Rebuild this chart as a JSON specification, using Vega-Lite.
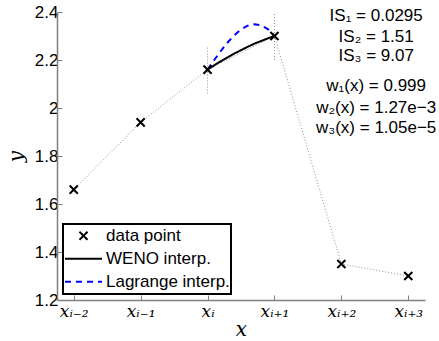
{
  "$schema": "https://vega.github.io/schema/vega-lite/v6.json",
  "width": 368,
  "height": 288,
  "autosize": {"type": "none"},
  "padding": {"left": 57, "top": 12, "right": 14, "bottom": 41},
  "background": "white",
  "datasets": {
    "points": [
      {"x": 0, "y": 1.66, "series": "data point"},
      {"x": 1, "y": 1.94, "series": "data point"},
      {"x": 2, "y": 2.16, "series": "data point"},
      {"x": 3, "y": 2.30, "series": "data point"},
      {"x": 4, "y": 1.35, "series": "data point"},
      {"x": 5, "y": 1.30, "series": "data point"}
    ],
    "curves": [
      {"x": 2.0, "y": 2.160, "series": "WENO interp."},
      {"x": 2.1, "y": 2.178, "series": "WENO interp."},
      {"x": 2.2, "y": 2.195, "series": "WENO interp."},
      {"x": 2.3, "y": 2.211, "series": "WENO interp."},
      {"x": 2.4, "y": 2.227, "series": "WENO interp."},
      {"x": 2.5, "y": 2.241, "series": "WENO interp."},
      {"x": 2.6, "y": 2.255, "series": "WENO interp."},
      {"x": 2.7, "y": 2.268, "series": "WENO interp."},
      {"x": 2.8, "y": 2.279, "series": "WENO interp."},
      {"x": 2.9, "y": 2.290, "series": "WENO interp."},
      {"x": 3.0, "y": 2.300, "series": "WENO interp."},
      {"x": 2.0, "y": 2.160, "series": "Lagrange interp."},
      {"x": 2.1, "y": 2.200, "series": "Lagrange interp."},
      {"x": 2.2, "y": 2.238, "series": "Lagrange interp."},
      {"x": 2.3, "y": 2.273, "series": "Lagrange interp."},
      {"x": 2.4, "y": 2.303, "series": "Lagrange interp."},
      {"x": 2.5, "y": 2.327, "series": "Lagrange interp."},
      {"x": 2.6, "y": 2.343, "series": "Lagrange interp."},
      {"x": 2.7, "y": 2.349, "series": "Lagrange interp."},
      {"x": 2.8, "y": 2.345, "series": "Lagrange interp."},
      {"x": 2.9, "y": 2.329, "series": "Lagrange interp."},
      {"x": 3.0, "y": 2.300, "series": "Lagrange interp."}
    ],
    "vlines": [
      {"x": 2, "y": 2.06, "y2": 2.26},
      {"x": 3, "y": 2.20, "y2": 2.40}
    ],
    "notes": [
      {"x": 4.52, "y": 2.383, "label": "IS₁ = 0.0295"},
      {"x": 4.52, "y": 2.294, "label": "IS₂ = 1.51"},
      {"x": 4.52, "y": 2.217, "label": "IS₃ = 9.07"},
      {"x": 4.52, "y": 2.092, "label": "w₁(x) = 0.999"},
      {"x": 4.52, "y": 2.002, "label": "w₂(x) = 1.27e−3"},
      {"x": 4.52, "y": 1.917, "label": "w₃(x) = 1.05e−5"}
    ]
  },
  "encoding": {
    "x": {
      "field": "x",
      "type": "quantitative",
      "scale": {"domain": [-0.25, 5.25], "nice": false, "zero": false},
      "axis": {
        "values": [0, 1, 2, 3, 4, 5],
        "labelExpr": "['xᵢ₋₂','xᵢ₋₁','xᵢ','xᵢ₊₁','xᵢ₊₂','xᵢ₊₃'][round(datum.value)]",
        "labelFont": "DejaVu Serif",
        "labelFontStyle": "italic",
        "labelFontSize": 17,
        "labelPadding": 8,
        "title": "x",
        "titleFont": "DejaVu Serif",
        "titleFontStyle": "italic",
        "titleFontWeight": "normal",
        "titleFontSize": 20,
        "titlePadding": 0
      }
    },
    "y": {
      "field": "y",
      "type": "quantitative",
      "scale": {"domain": [1.2, 2.4], "nice": false, "zero": false},
      "axis": {
        "values": [1.2, 1.4, 1.6, 1.8, 2.0, 2.2, 2.4],
        "format": "~g",
        "labelFont": "Liberation Sans",
        "labelFontSize": 17,
        "labelPadding": 4,
        "title": "y",
        "titleFont": "DejaVu Serif",
        "titleFontStyle": "italic",
        "titleFontWeight": "normal",
        "titleFontSize": 20,
        "titlePadding": 8
      }
    }
  },
  "layer": [
    {
      "data": {"name": "points"},
      "mark": {"type": "line", "color": "#909090", "strokeWidth": 1, "strokeDash": [1, 2]},
      "encoding": {}
    },
    {
      "data": {"name": "vlines"},
      "mark": {"type": "rule", "color": "#909090", "strokeWidth": 1, "strokeDash": [1, 2]},
      "encoding": {"y2": {"field": "y2"}}
    },
    {
      "data": {"name": "curves"},
      "mark": {"type": "line", "strokeWidth": 2},
      "encoding": {
        "color": {
          "field": "series", "type": "nominal",
          "scale": {"domain": ["data point", "WENO interp.", "Lagrange interp."], "range": ["black", "black", "blue"]}
        },
        "strokeDash": {
          "field": "series", "type": "nominal",
          "scale": {"domain": ["data point", "WENO interp.", "Lagrange interp."], "range": [[1, 0], [1, 0], [6, 5]]}
        }
      }
    },
    {
      "data": {"name": "points"},
      "mark": {"type": "point", "filled": false, "size": 1369, "strokeWidth": 2, "opacity": 1},
      "encoding": {
        "color": {
          "field": "series", "type": "nominal",
          "scale": {"domain": ["data point", "WENO interp.", "Lagrange interp."], "range": ["black", "black", "blue"]}
        },
        "shape": {
          "field": "series", "type": "nominal",
          "scale": {"domain": ["data point", "WENO interp.", "Lagrange interp."], "range": ["M-0.22,-0.22L0.22,0.22M-0.22,0.22L0.22,-0.22", "stroke", "stroke"]}
        }
      }
    },
    {
      "data": {"name": "notes"},
      "mark": {"type": "text", "align": "center", "baseline": "middle", "font": "Liberation Sans", "fontSize": 17, "color": "black"},
      "encoding": {"text": {"field": "label"}}
    }
  ],
  "config": {
    "view": {"stroke": null},
    "axis": {
      "grid": false,
      "domainColor": "#808080",
      "domainWidth": 1.5,
      "tickColor": "#808080",
      "tickWidth": 1,
      "tickSize": -5,
      "labelColor": "black",
      "titleColor": "black"
    },
    "legend": {
      "title": null,
      "orient": "bottom-left",
      "offset": 6,
      "padding": 1,
      "rowPadding": 1,
      "strokeColor": "black",
      "strokeWidth": 2,
      "fillColor": "white",
      "symbolSize": 1369,
      "symbolStrokeWidth": 2,
      "labelFont": "Liberation Sans",
      "labelFontSize": 17,
      "labelColor": "black",
      "labelOffset": 3,
      "clipHeight": 21.5
    }
  }
}
